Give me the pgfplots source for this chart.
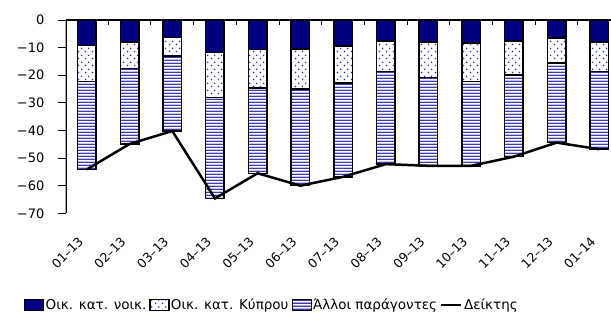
\documentclass[border=0pt]{standalone}
\usepackage{fontspec}
\setmainfont{DejaVu Sans}
\usepackage{pgfplots}
\pgfplotsset{compat=1.18}
\usetikzlibrary{patterns}
\definecolor{navybar}{RGB}{0,0,128}
\definecolor{dotblue}{RGB}{40,40,200}
\definecolor{stripeblue}{RGB}{45,45,165}
\definecolor{stripelav}{RGB}{170,170,228}
\pgfdeclarepatternformonly{mydots}{\pgfpointorigin}{\pgfqpoint{7bp}{7bp}}{\pgfqpoint{7bp}{7bp}}{%
  \pgfpathcircle{\pgfqpoint{1.75bp}{1.75bp}}{0.95bp}%
  \pgfpathcircle{\pgfqpoint{5.25bp}{5.25bp}}{0.95bp}%
  \pgfusepath{fill}}
\pgfdeclarepatterninherentlycolored{mystripes}{\pgfpointorigin}{\pgfqpoint{3bp}{3bp}}{\pgfqpoint{3bp}{3bp}}{%
  \pgfsetfillcolor{stripeblue}%
  \pgfpathrectangle{\pgfpointorigin}{\pgfqpoint{3bp}{1.2bp}}\pgfusepath{fill}%
  \pgfsetfillcolor{stripelav}%
  \pgfpathrectangle{\pgfqpoint{0bp}{1.2bp}}{\pgfqpoint{3bp}{1.1bp}}\pgfusepath{fill}}
\begin{document}
\begin{tikzpicture}
\begin{axis}[
  at={(65.5bp,299bp)}, anchor=north west,
  scale only axis, width=555.1bp, height=193.3bp,
  xmin=-0.5, xmax=12.5, ymin=-70, ymax=0,
  axis line style={draw=none},
  xtick={0,...,12},
  xticklabels={01–13,02–13,03–13,04–13,05–13,06–13,07–13,08–13,09–13,10–13,11–13,12–13,01–14},
  xtick pos=right, xticklabel pos=left,
  major x tick style={draw=none},
  minor x tick num=1,
  minor x tick style={black, line width=1bp},
  minor tick length=5bp,
  xtick align=inside,
  ytick={-70,-60,...,0},
  yticklabels={−70,−60,−50,−40,−30,−20,−10,0},
  ytick pos=left, ytick align=outside,
  major tick length=7bp,
  y tick style={black, line width=0.9bp},
  xticklabel style={font=\fontsize{12.5bp}{15bp}\selectfont, yshift=-26bp, xshift=-6bp, rotate=45, anchor=east, inner sep=0pt},
  yticklabel style={font=\fontsize{13bp}{15bp}\selectfont, anchor=east, inner sep=0pt, xshift=-14bp},
  legend columns=4,
  legend style={at={(-0.0748,-0.474)}, anchor=west, draw=none, fill=none, inner sep=0pt,
    font=\fontsize{13.5bp}{15bp}\selectfont, cells={anchor=west}, nodes={inner xsep=1.5bp},
    /tikz/every even column/.append style={column sep=1.5bp}},
]
\addlegendimage{legend image code/.code={\draw[fill=navybar, draw=black, line width=1bp] (0bp,-5.5bp) rectangle (19bp,5.5bp);}}
\addlegendimage{legend image code/.code={\draw[preaction={fill=white}, pattern=mydots, pattern color=dotblue, draw=black, line width=1bp] (0bp,-5.5bp) rectangle (19bp,5.5bp);}}
\addlegendimage{legend image code/.code={\draw[preaction={fill=white}, pattern=mystripes, draw=black, line width=1bp] (0bp,-5.5bp) rectangle (19bp,5.5bp);}}
\addlegendimage{legend image code/.code={\draw[black, line width=2.5bp] (0bp,0bp) -- (20bp,0bp);}}
\legend{Οικ. κατ. νοικ., Οικ. κατ. Κύπρου, Άλλοι παράγοντες, Δείκτης}

% total of all three components (bottom of striped segment)
\addplot[ybar, bar width=18.5bp, bar shift=0pt, draw=black, line width=1.5bp, preaction={fill=white}, pattern=mystripes, forget plot]
coordinates {(0,-54.1) (1,-44.9) (2,-40.2) (3,-64.6) (4,-55.5) (5,-60.0) (6,-56.8) (7,-52.2) (8,-52.8) (9,-52.8) (10,-49.5) (11,-44.4) (12,-46.8)};
% navy + Cyprus (bottom of dotted segment)
\addplot[ybar, bar width=18.5bp, bar shift=0pt, draw=black, line width=1.5bp, preaction={fill=white}, pattern=mydots, pattern color=dotblue, forget plot]
coordinates {(0,-22.3) (1,-17.5) (2,-13.0) (3,-28.1) (4,-24.7) (5,-25.0) (6,-22.9) (7,-18.7) (8,-20.8) (9,-22.3) (10,-19.9) (11,-15.5) (12,-18.7)};
% navy segment
\addplot[ybar, bar width=18.5bp, bar shift=0pt, draw=black, line width=1.5bp, fill=navybar, forget plot]
coordinates {(0,-9.3) (1,-7.9) (2,-6.3) (3,-11.7) (4,-10.6) (5,-10.5) (6,-9.4) (7,-7.6) (8,-7.9) (9,-8.4) (10,-7.6) (11,-6.6) (12,-7.9)};
% index line
\addplot[black, line width=2.5bp, sharp plot, mark=none, forget plot]
coordinates {(0,-54.1) (1,-44.9) (2,-40.2) (3,-64.6) (4,-55.5) (5,-60.0) (6,-56.8) (7,-52.2) (8,-52.8) (9,-52.8) (10,-49.5) (11,-44.4) (12,-46.8)};
\draw[black, line width=1.5bp] (axis cs:-0.5,0) -- (axis cs:12.5,0);
\draw[black, line width=2bp] (axis cs:-0.5,0) -- (axis cs:-0.5,-70);
\end{axis}
\pgfresetboundingbox
\path (0bp,0bp) rectangle (611bp,319bp);
\end{tikzpicture}
\end{document}
